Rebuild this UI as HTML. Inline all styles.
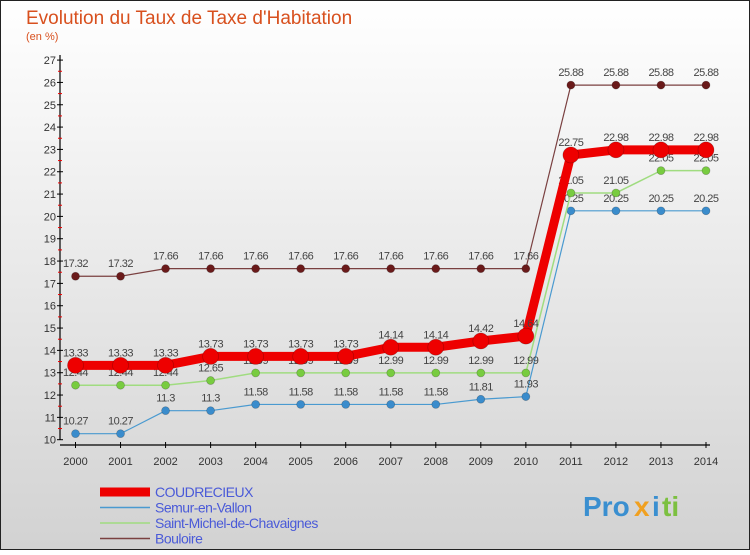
<!DOCTYPE html>
<html><head><meta charset="utf-8"><style>
body{margin:0;width:750px;height:550px;overflow:hidden;font-family:"Liberation Sans",sans-serif}
svg text{font-family:"Liberation Sans",sans-serif}
</style></head><body>
<svg id="c" width="750" height="550">
<defs><linearGradient id="bg" x1="0" y1="0" x2="0" y2="1"><stop offset="0" stop-color="#ffffff"/><stop offset="1" stop-color="#d2d2d2"/></linearGradient></defs>
<rect x="0" y="0" width="750" height="550" fill="url(#bg)" stroke="#222" stroke-width="2"/>
<text x="26" y="24" font-size="19" fill="#d8501e">Evolution du Taux de Taxe d'Habitation</text>
<text x="26" y="40" font-size="11" fill="#d8501e">(en %)</text>
<g id="axes"></g><g id="series"></g><g id="legend"></g>
<g font-size="28" font-weight="bold">
<text x="583" y="516" fill="#3a8fd0">Pro</text><text x="634" y="516" fill="#f0a020">x</text><text x="652" y="516" fill="#3a8fd0">i</text><text x="662" y="516" fill="#7cc040">ti</text>
</g>
</svg>
<script>
const years=[2000,2001,2002,2003,2004,2005,2006,2007,2008,2009,2010,2011,2012,2013,2014];
const yTicks=[10,11,12,13,14,15,16,17,18,19,20,21,22,23,24,25,26,27];
const coud=[13.33,13.33,13.33,13.73,13.73,13.73,13.73,14.14,14.14,14.42,14.64,22.75,22.98,22.98,22.98];
const semur=[10.27,10.27,11.3,11.3,11.58,11.58,11.58,11.58,11.58,11.81,11.93,20.25,20.25,20.25,20.25];
const stmichel=[12.44,12.44,12.44,12.65,12.99,12.99,12.99,12.99,12.99,12.99,12.99,21.05,21.05,22.05,22.05];
const bouloire=[17.32,17.32,17.66,17.66,17.66,17.66,17.66,17.66,17.66,17.66,17.66,25.88,25.88,25.88,25.88];
const names=["COUDRECIEUX","Semur-en-Vallon","Saint-Michel-de-Chavaignes","Bouloire"];
const NS="http://www.w3.org/2000/svg";
const X=i=>75.5+i*(706-75.5)/(years.length-1);
const Y=v=>439.7-(v-10)*22.33;
function mk(p,t,a,txt){const e=document.createElementNS(NS,t);for(const k in a)e.setAttribute(k,a[k]);if(txt!=null)e.textContent=txt;p.appendChild(e);return e;}
const ax=document.getElementById('axes');
mk(ax,'line',{x1:60,y1:55,x2:60,y2:440,stroke:'#000','stroke-width':1.2});
mk(ax,'line',{x1:60,y1:445,x2:710,y2:445,stroke:'#000','stroke-width':1.2});
yTicks.forEach(v=>{
 mk(ax,'line',{x1:57,x2:63,y1:Y(v),y2:Y(v),stroke:'#000'});
 if(v<27)mk(ax,'line',{x1:58,x2:62,y1:Y(v+0.5),y2:Y(v+0.5),stroke:'#e00'});
 const t=mk(ax,'text',{x:56,y:Y(v)+4,'font-size':11,fill:'#333','text-anchor':'end'},v);
 
 
});
years.forEach((y,i)=>{
 mk(ax,'line',{x1:X(i),x2:X(i),y1:442,y2:448,stroke:'#000'});
 const t=mk(ax,'text',{x:X(i),y:465,'font-size':11,fill:'#333','text-anchor':'middle'},y);
 
 
});
const ser=document.getElementById('series');
function draw(data,color,dot,w,r,name){
 const g=mk(ser,'g',{});
 
 
 mk(g,'polyline',{points:data.map((v,i)=>X(i)+','+Y(v)).join(' '),fill:'none',stroke:color,'stroke-width':w,'stroke-linejoin':'round'});
 data.forEach((v,i)=>{
  const c=mk(g,'circle',{cx:X(i),cy:Y(v),r:r,fill:dot,stroke:'rgba(0,0,0,0.25)','stroke-width':0.7});
  
  
  const t=mk(g,'text',{x:X(i),y:Y(v)-9,'font-size':11,fill:'#444','text-anchor':'middle','letter-spacing':'-0.5'},String(v));
  
  
 });
}
draw(semur,'#4a9ad0','#3a8ccc',1.2,4,'series-semur');
draw(stmichel,'#a0dc80','#78cc40',1.5,4,'series-saint-michel');
draw(bouloire,'#7a4040','#6a1a1a',1.2,4,'series-bouloire');
draw(coud,'#ee0000','#ee0000',9,8,'series-coudrecieux');
const lg=document.getElementById('legend');
const lc=[['#ee0000',9],['#4a9ad0',1.5],['#a0dc80',1.5],['#7a4040',1.5]];
names.forEach((n,i)=>{
 const y=492+i*15.5;
 const g=mk(lg,'g',{});
 
 
 mk(g,'line',{x1:100,x2:150,y1:y,y2:y,stroke:lc[i][0],'stroke-width':lc[i][1]});
 mk(g,'text',{x:155,y:y+5,'font-size':14,fill:'#4a5ad8','letter-spacing':'-0.5'},n);
});
</script>
</body></html>
